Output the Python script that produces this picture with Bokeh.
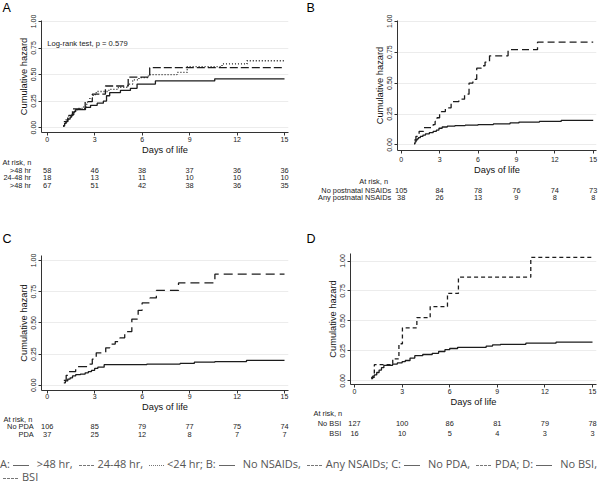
from bokeh.plotting import figure
from bokeh.models import Range1d, Label, Div
from bokeh.layouts import column, row
from bokeh.core.properties import value
from bokeh.embed import file_html
from bokeh.resources import INLINE

# ---------------- data ----------------
DAY_TICKS = [0, 3, 6, 9, 12, 15]
HAZ_TICKS = [0, 0.25, 0.5, 0.75, 1.0]
HAZ_LABELS = ["0.00", "0.25", "0.50", "0.75", "1.00"]
PANEL_LETTERS = ["A", "B", "C", "D"]

# Panel A: age at first enteral feed
A_gt48_x = [1.0, 1.1, 1.2, 1.3, 1.45, 1.55, 1.68, 1.8, 2.42, 2.74, 3.16, 3.55, 3.75, 3.95, 4.63, 5.26, 5.68, 6.84, 10.59, 15.0]
A_gt48_y = [0.015, 0.04, 0.06, 0.08, 0.10, 0.12, 0.15, 0.17, 0.19, 0.21, 0.23, 0.25, 0.30, 0.33, 0.35, 0.37, 0.41, 0.44, 0.46, 0.46]
A_24_48_x = [1.05, 1.3, 1.6, 2.4, 2.85, 3.68, 5.12, 6.48, 15.0]
A_24_48_y = [0.056, 0.115, 0.177, 0.244, 0.315, 0.392, 0.475, 0.565, 0.565]
A_lt24_x = [1.0, 1.1, 1.2, 1.35, 1.5, 1.7, 1.9, 2.3, 2.5, 2.7, 2.9, 3.1, 3.9, 4.5, 5.1, 5.4, 5.8, 6.4, 8.2, 8.85, 11.05, 12.63, 15.0]
A_lt24_y = [0.015, 0.05, 0.08, 0.11, 0.13, 0.16, 0.18, 0.20, 0.24, 0.28, 0.31, 0.34, 0.36, 0.38, 0.41, 0.45, 0.47, 0.50, 0.52, 0.575, 0.60, 0.63, 0.63]
A_risk_names = [">48 hr", "24-48 hr", ">48 hr"]
A_risk = [[58, 46, 38, 37, 36, 36], [18, 13, 11, 10, 10, 10], [67, 51, 42, 38, 36, 35]]
A_note = "Log-rank test, p = 0.579"

# Panel B: postnatal NSAIDs
B_no_x = [1.0, 1.08, 1.16, 1.25, 1.35, 1.5, 1.7, 1.9, 2.2, 2.5, 2.75, 2.95, 3.2, 3.6, 4.2, 5.0, 6.0, 7.2, 8.5, 9.2, 10.8, 12.5, 15.0]
B_no_y = [0.01, 0.025, 0.04, 0.05, 0.06, 0.07, 0.08, 0.09, 0.10, 0.11, 0.12, 0.135, 0.145, 0.152, 0.157, 0.16, 0.165, 0.17, 0.178, 0.185, 0.19, 0.198, 0.198]
B_any_x = [1.03, 1.15, 1.4, 1.75, 2.5, 2.65, 2.8, 3.0, 3.15, 3.45, 3.9, 4.5, 4.95, 5.3, 5.6, 5.9, 6.25, 6.55, 6.9, 8.35, 10.65, 15.0]
B_any_y = [0.04, 0.07, 0.11, 0.14, 0.165, 0.19, 0.22, 0.25, 0.27, 0.30, 0.35, 0.37, 0.41, 0.50, 0.53, 0.62, 0.64, 0.67, 0.72, 0.77, 0.83, 0.83]
B_risk_names = ["No postnatal NSAIDs", "Any postnatal NSAIDs"]
B_risk = [[105, 84, 78, 76, 74, 73], [38, 26, 13, 9, 8, 8]]

# Panel C: PDA
C_no_x = [1.05, 1.15, 1.3, 1.45, 1.6, 1.8, 2.1, 2.4, 2.6, 2.8, 3.0, 3.2, 3.6, 6.3, 8.4, 9.3, 10.6, 12.6, 15.0]
C_no_y = [0.02, 0.035, 0.05, 0.06, 0.075, 0.085, 0.09, 0.10, 0.11, 0.12, 0.135, 0.145, 0.165, 0.17, 0.175, 0.185, 0.19, 0.20, 0.20]
C_pda_x = [1.05, 1.2, 1.35, 1.8, 2.65, 2.85, 3.1, 3.7, 3.95, 4.3, 4.6, 4.9, 5.35, 5.75, 6.0, 6.5, 6.9, 8.3, 10.6, 15.0]
C_pda_y = [0.04, 0.08, 0.11, 0.15, 0.17, 0.21, 0.26, 0.30, 0.33, 0.35, 0.38, 0.43, 0.53, 0.60, 0.66, 0.70, 0.76, 0.82, 0.89, 0.89]
C_risk_names = ["No PDA", "PDA"]
C_risk = [[106, 85, 79, 77, 75, 74], [37, 25, 12, 8, 7, 7]]

# Panel D: BSI
D_no_x = [1.05, 1.15, 1.25, 1.4, 1.55, 1.7, 1.85, 2.4, 2.7, 3.0, 3.2, 3.5, 3.8, 4.3, 4.9, 5.3, 5.7, 6.0, 6.5, 8.3, 8.7, 9.2, 10.8, 12.7, 15.0]
D_no_y = [0.02, 0.04, 0.05, 0.07, 0.09, 0.11, 0.13, 0.14, 0.15, 0.16, 0.17, 0.19, 0.21, 0.22, 0.23, 0.245, 0.26, 0.27, 0.28, 0.29, 0.30, 0.305, 0.315, 0.323, 0.323]
D_bsi_x = [1.05, 1.25, 2.41, 2.8, 3.02, 3.93, 4.77, 5.86, 6.55, 11.11, 15.0]
D_bsi_y = [0.03, 0.135, 0.184, 0.31, 0.443, 0.527, 0.62, 0.73, 0.865, 1.03, 1.03]
D_risk_names = ["No BSI", "BSI"]
D_risk = [[127, 100, 86, 81, 79, 78], [16, 10, 5, 4, 3, 3]]

# ---------------- layout (page pixel positions) ----------------
FONT = "Liberation Sans"
INK = "#1c1c1c"
TXT = "#222222"


def lin(p0, v0, p1, v1):
    k = (v1 - v0) / (p1 - p0)
    return lambda p: v0 + (p - p0) * k


def blank(w, h, xr, y_top):
    t = figure(width=w, height=h, output_backend="svg", toolbar_location=None,
               x_range=xr, y_range=Range1d(y_top + h, y_top),
               min_border_left=0, min_border_right=0, min_border_top=0, min_border_bottom=0,
               x_axis_location=None, y_axis_location=None)
    t.frame_align = False
    t.outline_line_color = None
    t.grid.visible = False
    return t


def letter_text(fig, x, y, letter):
    fig.text(x=[x], y=[y], text=[letter], text_font=value(FONT), text_font_size=value("12.5px"),
             text_color="#000000", text_align="left", text_baseline="middle")


def plot_fig(spec, curves, note=None):
    ox, oy, w, hp = spec["ox"], spec["oy"], spec["w"], spec["hp"]
    fl, fr, ft, fb = spec["frame"]
    fx = lin(spec["x0"], 0.0, spec["x15"], 15.0)
    fy = lin(spec["y0"], 0.0, spec["y1"], 1.0)
    p = figure(width=w, height=hp, output_backend="svg", toolbar_location=None,
               x_range=Range1d(fx(fl), fx(fr)), y_range=Range1d(fy(fb), fy(ft)),
               min_border_left=fl - ox, min_border_right=ox + w - fr,
               min_border_top=ft - oy, min_border_bottom=oy + hp - fb)
    p.frame_align = False
    p.outline_line_color = None
    p.xgrid.visible = False
    p.ygrid.ticker = HAZ_TICKS
    p.ygrid.grid_line_color = "#ececec"
    for ax in (p.xaxis[0], p.yaxis[0]):
        ax.axis_line_color = "#333333"
        ax.major_tick_line_color = "#333333"
        ax.major_tick_out = 3
        ax.major_tick_in = 0
        ax.minor_tick_line_color = None
        ax.major_label_text_font = FONT
        ax.major_label_text_font_size = "7px"
        ax.major_label_text_color = TXT
        ax.axis_label_text_font = FONT
        ax.axis_label_text_font_size = "9.3px"
        ax.axis_label_text_font_style = "normal"
        ax.axis_label_text_color = "#111111"
        ax.axis_label_standoff = 0
    p.xaxis.ticker = DAY_TICKS
    p.xaxis.axis_label = "Days of life"
    p.xaxis.major_label_standoff = spec["xstand"]
    p.yaxis.ticker = HAZ_TICKS
    p.yaxis.major_label_overrides = {t: s for t, s in zip(HAZ_TICKS, HAZ_LABELS)}
    p.yaxis.major_label_orientation = "parallel"
    p.yaxis.axis_label = "Cumulative hazard"
    p.yaxis.major_label_standoff = 2
    for xs, ys, dash in curves:
        p.step(xs, ys, mode="after", line_color=INK, line_width=1.3, line_dash=dash)
    if note:
        p.add_layout(Label(x=0.0, y=fy(spec["note_y"]), text=note, text_font=FONT, text_font_size="7.6px",
                           text_color=TXT, text_align="left", text_baseline="middle"))
    return p


def table_fig(spec, names, risk, ht, extra_letter=None):
    ox, w = spec["ox"], spec["w"]
    fx = lin(spec["x0"], 0.0, spec["x15"], 15.0)
    ty0 = spec["oy"] + spec["hp"]
    t = blank(w, ht, Range1d(fx(ox), fx(ox + w)), ty0)
    rows_y = spec["rows_y"]
    hx, halign = spec["head"]
    style = dict(text_font=value(FONT), text_font_size=value("7.4px"), text_color=TXT, text_baseline="middle")
    t.text(x=[fx(hx)], y=[rows_y[0]], text=["At risk, n"], text_align=halign, **style)
    t.text(x=[fx(spec["name_r"])] * len(names), y=rows_y[1:], text=names, text_align="right", **style)
    for counts, sy in zip(risk, rows_y[1:]):
        t.text(x=DAY_TICKS, y=[sy] * len(DAY_TICKS), text=[str(c) for c in counts], text_align="center", **style)
    if extra_letter:
        lx, ly, letter = extra_letter
        letter_text(t, fx(lx), ly, letter)
    return t


STRIP_H = 14
ROW2_Y = 246
SPEC_A = dict(ox=0, oy=STRIP_H, w=300, hp=157 - STRIP_H, frame=(41, 288, 20, 134), x0=46.7, x15=284.0,
              y0=129.0, y1=21.0, xstand=1, note_y=43.3, rows_y=[162, 169.5, 177, 185], head=(2, "left"), name_r=30.5)
SPEC_B = dict(ox=300, oy=STRIP_H, w=302, hp=177 - STRIP_H, frame=(397, 596, 20, 154), x0=400.7, x15=592.7,
              y0=148.3, y1=20.7, xstand=3, rows_y=[181, 190.3, 197], head=(387.5, "right"), name_r=390.7)
SPEC_C = dict(ox=0, oy=ROW2_Y, w=300, hp=414 - ROW2_Y, frame=(41, 288, 255, 392), x0=46.7, x15=284.0,
              y0=386.7, y1=260.0, xstand=0, rows_y=[419, 426, 434], head=(3, "left"), name_r=33.3)
SPEC_D = dict(ox=300, oy=ROW2_Y, w=302, hp=409 - ROW2_Y, frame=(350, 596, 253, 387), x0=354.0, x15=592.0,
              y0=383.3, y1=260.7, xstand=1, rows_y=[413.3, 423, 433], head=(341.7, "right"), name_r=340.7)

# letters: (x left, y centre) on the page
LET_POS = {"A": (2, 7.5), "B": (306, 7.5), "C": (2, 238), "D": (306, 238)}

stripA = blank(300, STRIP_H, Range1d(0, 300), 0)
letter_text(stripA, LET_POS["A"][0], LET_POS["A"][1], PANEL_LETTERS[0])
stripB = blank(302, STRIP_H, Range1d(300, 602), 0)
letter_text(stripB, LET_POS["B"][0], LET_POS["B"][1], PANEL_LETTERS[1])

pA = plot_fig(SPEC_A, [(A_gt48_x, A_gt48_y, "solid"), (A_24_48_x, A_24_48_y, "8 3"), (A_lt24_x, A_lt24_y, "1 2")], note=A_note)
tA = table_fig(SPEC_A, A_risk_names, A_risk, ROW2_Y - 157, extra_letter=(LET_POS["C"][0], LET_POS["C"][1], PANEL_LETTERS[2]))
pB = plot_fig(SPEC_B, [(B_no_x, B_no_y, "solid"), (B_any_x, B_any_y, "7 4")])
tB = table_fig(SPEC_B, B_risk_names, B_risk, ROW2_Y - 177, extra_letter=(LET_POS["D"][0], LET_POS["D"][1], PANEL_LETTERS[3]))
pC = plot_fig(SPEC_C, [(C_no_x, C_no_y, "solid"), (C_pda_x, C_pda_y, "9 5")])
tC = table_fig(SPEC_C, C_risk_names, C_risk, 450 - 414)
pD = plot_fig(SPEC_D, [(D_no_x, D_no_y, "solid"), (D_bsi_x, D_bsi_y, "4 3")])
tD = table_fig(SPEC_D, D_risk_names, D_risk, 450 - 409)

LEG_SOLID = '<span style="display:inline-block;width:16px;height:0;border-top:1px solid #666;vertical-align:middle;margin:0 8px 0 3px"></span>'
LEG_DASH = '<span style="display:inline-block;width:15px;height:0;border-top:1px dashed #777;vertical-align:middle;margin:0 4px 0 3px"></span>'
LEG_DOT = '<span style="display:inline-block;width:15px;height:0;border-top:1px dotted #777;vertical-align:middle;margin:0 3px 0 3px"></span>'
caption = (
    '<div style="font-family:\'Open Sans\';font-size:11px;color:#555;line-height:13px;white-space:nowrap;padding-top:7px;">'
    f'A:{LEG_SOLID}&gt;48 hr, {LEG_DASH}24-48 hr, {LEG_DOT}&lt;24 hr; B:{LEG_SOLID}No NSAIDs, {LEG_DASH}Any NSAIDs; '
    f'C:{LEG_SOLID}No PDA, {LEG_DASH}PDA; D:{LEG_SOLID}No BSI,<br>{LEG_DASH}BSI</div>'
)
cap = Div(text=caption, width=602, height=33, margin=(0, 0, 0, 0))

layout = column(
    row(column(stripA, pA, tA, spacing=0), column(stripB, pB, tB, spacing=0), spacing=0),
    row(column(pC, tC, spacing=0), column(pD, tD, spacing=0), spacing=0),
    cap, spacing=0)

open("out.html", "w").write(file_html(layout, INLINE))
